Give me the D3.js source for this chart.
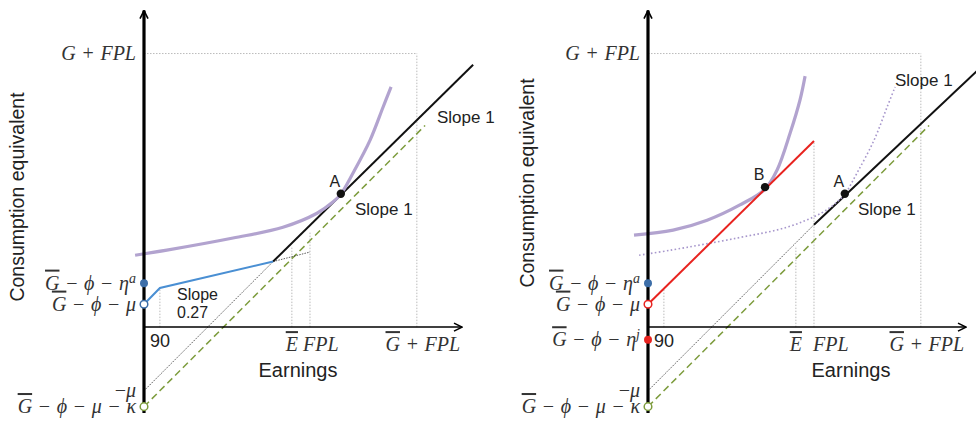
<!DOCTYPE html>
<html lang="en">
<head>
<meta charset="utf-8">
<title>Consumption equivalent vs earnings</title>
<script src="https://d3js.org/d3.v7.min.js"></script>
<style>
  body { margin: 0; background: #fff; }
  .math { font-family: "Liberation Serif", "DejaVu Serif", serif; font-size: 20px; fill: #333; }
  .it { font-style: italic; }
  .bar { text-decoration: overline; }
  .sans { font-family: "Liberation Sans", Arial, sans-serif; fill: #222; }
</style>
</head>
<body>
<svg></svg>
<script>
var width = 976, height = 421;

// x positions on the earnings axis (units)
var x90 = 5, xEbar = 46.5, xFpl = 52.2, xGFpl = 85.8;
// levels on the consumption axis (units)
var yTop = 86, yEtaA = 13.8, yMu = 7.2, yEtaJ = -4, yNegMu = -20, yKappa = -25;

// indifference curves
var curveA = [[-2.8,22.6],[7.2,24.2],[28,28],[43.7,31.4],[54.4,35.8],[59.4,39.3],[61.9,41.8],[65.7,48.4],[71.1,58.8],[75.2,69.2],[77.7,75.5]];
var curveB = [[-4.4,28.9],[7.9,30.5],[18.6,33.6],[28.9,38.4],[36.8,43.4],[40.6,49.4],[44.7,61],[47.8,71.4],[49.4,78.9]];

// budget lines
var blueBudget = [[0,7.2],[5,12.3],[40.6,20.6]];
var blueExt = [[40.6,20.6],[52.2,23.6]];
var redBudget = [[0,7.2],[52.2,58.5]];
var greenLine = [[0,-25],[88.4,63.4]];
var leftDotted = [[0,-20],[40.6,20.6]];
var leftSolid = [[40.6,20.6],[103.5,82.5]];
var rightDotted = [[0,-20],[52.2,32.2]];
var rightSolid = [[52.2,32.2],[104.5,81.5]];

var pointA = [61.9, 41.9], pointB = [36.8, 44];

// top of each vertical guide line
var guideTopsLeft = [12.3, 25.5, 30, yTop];
var guideTopsRight = [12.2, 25.5, 58.5, yTop];

var svg = d3.select("svg").attr("width", width).attr("height", height);

var defs = svg.append("defs");
defs.append("marker").attr("id", "arrow")
  .attr("viewBox", "0 0 10 10").attr("refX", 9).attr("refY", 5)
  .attr("markerWidth", 10).attr("markerHeight", 10).attr("markerUnits", "userSpaceOnUse")
  .attr("orient", "auto")
  .append("path").attr("d", "M1,1 L9,5 L1,9").attr("fill", "none")
  .attr("stroke", "#000").attr("stroke-width", 1.6);

// label pieces: [text, class, superscript?]
var sp = "\u2004";
var G = ["G", "it bar"], minus = [sp + "−" + sp, ""], phi = ["ϕ", "it"], mu = ["μ", "it"];
var labelsLeft = [
  {y: yTop, parts: [["G", "it"], [sp + "+" + sp, ""], ["FPL", "it"]]},
  {y: yEtaA, parts: [G, minus, phi, minus, ["η", "it"], ["a", "it", true]]},
  {y: yMu, parts: [G, minus, phi, minus, mu]},
  {y: yNegMu, parts: [["−", ""], mu]},
  {y: yKappa, parts: [G, minus, phi, minus, mu, minus, ["κ", "it"]]}
];
var labelsRight = labelsLeft.slice(0, 3).concat(
  [{y: yEtaJ, parts: [G, minus, phi, minus, ["η", "it"], ["j", "it", true]]}],
  labelsLeft.slice(3));

function drawPanel(x0, opt) {
  var x = d3.scaleLinear().domain([0, 100]).range([x0, x0 + 318]);
  var y = d3.scaleLinear().domain([-27, 100]).range([413, 9]);
  var line = d3.line().x(function(d) { return x(d[0]); }).y(function(d) { return y(d[1]); });
  var curve = d3.line().curve(d3.curveCatmullRom.alpha(0.5))
    .x(function(d) { return x(d[0]); }).y(function(d) { return y(d[1]); });
  var g = svg.append("g");

  // gray guides
  var guides = g.append("g").attr("stroke", "#bbb").attr("stroke-width", 1).attr("stroke-dasharray", "1.5,1.5").attr("fill", "none");
  guides.append("path").attr("d", line([[0, yTop], [xGFpl, yTop]]));
  [x90, xEbar, xFpl, xGFpl].forEach(function(v, i) {
    guides.append("path").attr("d", line([[v, 0], [v, opt.guideTops[i]]]));
  });

  // 45 degree lines
  g.append("path").attr("d", line(greenLine)).attr("fill", "none")
    .attr("stroke", "#7d9c3d").attr("stroke-width", 1.5).attr("stroke-dasharray", "7,4");
  g.append("path").attr("d", line(opt.dotted)).attr("fill", "none")
    .attr("stroke", "#333").attr("stroke-width", 0.8).attr("stroke-dasharray", "1.5,1.2");
  g.append("path").attr("d", line(opt.solid)).attr("fill", "none")
    .attr("stroke", "#111").attr("stroke-width", 2);

  if (opt.dottedCurve) {
    g.append("path").attr("d", curve(opt.dottedCurve)).attr("fill", "none")
      .attr("stroke", "#a797cc").attr("stroke-width", 1.6).attr("stroke-dasharray", "1.6,2.4");
  }
  g.append("path").attr("d", curve(opt.curve)).attr("fill", "none")
    .attr("stroke", "#b2a3cf").attr("stroke-width", 3.2);

  if (opt.blue) {
    g.append("path").attr("d", line(blueExt)).attr("fill", "none")
      .attr("stroke", "#333").attr("stroke-width", 0.8).attr("stroke-dasharray", "1.5,1.2");
    g.append("path").attr("d", line(blueBudget)).attr("fill", "none")
      .attr("stroke", "#4a8fd3").attr("stroke-width", 2);
  }
  if (opt.red) {
    g.append("path").attr("d", line(redBudget)).attr("fill", "none")
      .attr("stroke", "#e8231f").attr("stroke-width", 2);
  }

  // axes
  g.append("path").attr("d", line([[0, 0], [100, 0]])).attr("stroke", "#000")
    .attr("stroke-width", 1.5).attr("marker-end", "url(#arrow)");
  g.append("path").attr("d", line([[0, -27], [0, 99.5]])).attr("stroke", "#000")
    .attr("stroke-width", 3.2).attr("marker-end", "url(#arrow)");

  // dots on the y axis
  g.append("circle").attr("cx", x(0)).attr("cy", y(yEtaA)).attr("r", 4).attr("fill", "#3d6ea8");
  g.append("circle").attr("cx", x(0)).attr("cy", y(yMu)).attr("r", 3.8).attr("fill", "#fff")
    .attr("stroke", opt.red ? "#e8231f" : "#3d6ea8").attr("stroke-width", 1.5);
  g.append("circle").attr("cx", x(0)).attr("cy", y(yKappa)).attr("r", 3.8).attr("fill", "#fff")
    .attr("stroke", "#7d9c3d").attr("stroke-width", 1.5);
  if (opt.red) {
    g.append("circle").attr("cx", x(0)).attr("cy", y(yEtaJ)).attr("r", 4).attr("fill", "#e8231f");
  }

  // tangency points
  opt.points.forEach(function(p) {
    g.append("circle").attr("cx", x(p.at[0])).attr("cy", y(p.at[1])).attr("r", 4.2).attr("fill", "#111");
    g.append("text").attr("class", "sans").attr("x", x(p.at[0]) - 6).attr("y", y(p.at[1]) - 7)
      .attr("font-size", 16).attr("text-anchor", "middle").text(p.name);
  });

  // y axis labels
  opt.labels.forEach(function(l) {
    var t = g.append("text").attr("class", "math").attr("x", x(0) - 8).attr("y", y(l.y))
      .attr("dy", "0.32em").attr("text-anchor", "end");
    l.parts.forEach(function(p) {
      var s = t.append("tspan").attr("class", p[1]).text(p[0]);
      if (p[2]) s.attr("baseline-shift", "super").attr("font-size", 14);
    });
  });

  // x axis labels
  g.append("text").attr("class", "sans").attr("x", x(x90)).attr("y", y(0) + 20)
    .attr("font-size", 18).attr("text-anchor", "middle").text("90");
  var eb = g.append("text").attr("class", "math").attr("x", x(xEbar)).attr("y", y(0) + 24).attr("text-anchor", "middle");
  eb.append("tspan").attr("class", "it bar").text("E");
  g.append("text").attr("class", "math it").attr("x", x(xFpl) + opt.fplShift).attr("y", y(0) + 24).text("FPL");
  var gf = g.append("text").attr("class", "math").attr("x", x(xGFpl) + 6).attr("y", y(0) + 24).attr("text-anchor", "middle");
  gf.append("tspan").attr("class", "it bar").text("G");
  gf.append("tspan").text(sp + "+" + sp);
  gf.append("tspan").attr("class", "it").text("FPL");

  g.append("text").attr("class", "sans").attr("x", opt.earnX).attr("y", 377)
    .attr("font-size", 20).attr("text-anchor", "middle").text("Earnings");
  g.append("text").attr("class", "sans").attr("font-size", 19.5).attr("text-anchor", "middle")
    .attr("transform", "translate(" + opt.consX + "," + opt.consY + ") rotate(-90)")
    .text("Consumption equivalent");

  opt.notes.forEach(function(n) {
    var t = g.append("text").attr("class", "sans").attr("x", n.x).attr("y", n.y).attr("font-size", n.size);
    n.lines.forEach(function(s, i) {
      t.append("tspan").attr("x", n.x).attr("dy", i ? "1.15em" : 0).text(s);
    });
  });
}

drawPanel(144, {
  guideTops: guideTopsLeft, dotted: leftDotted, solid: leftSolid,
  curve: curveA, blue: true, labels: labelsLeft, fplShift: -7,
  points: [{name: "A", at: pointA}],
  earnX: 298, consX: 24, consY: 197,
  notes: [
    {x: 437, y: 123, size: 17, lines: ["Slope 1"]},
    {x: 355, y: 215, size: 17, lines: ["Slope 1"]},
    {x: 177, y: 300, size: 16, lines: ["Slope", "0.27"]}
  ]
});

drawPanel(648, {
  guideTops: guideTopsRight, dotted: rightDotted, solid: rightSolid,
  curve: curveB, dottedCurve: curveA, red: true, labels: labelsRight, fplShift: -1,
  points: [{name: "B", at: pointB}, {name: "A", at: pointA}],
  earnX: 851, consX: 534, consY: 183,
  notes: [
    {x: 895, y: 86, size: 17, lines: ["Slope 1"]},
    {x: 858, y: 215, size: 17, lines: ["Slope 1"]}
  ]
});
</script>
</body>
</html>
